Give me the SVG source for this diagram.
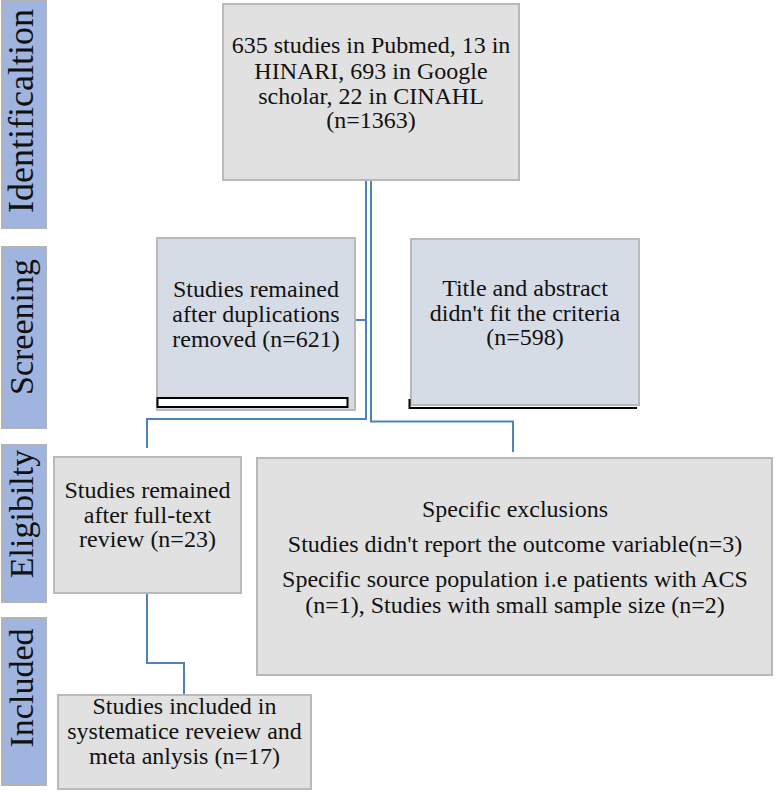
<svg xmlns="http://www.w3.org/2000/svg" width="779" height="792" viewBox="0 0 779 792">
<style>
.band{fill:#9fb5e0;stroke:#b3b3b3;stroke-width:2}
.bt{font-family:"Liberation Serif","Times New Roman",serif;font-size:34px;fill:#111;text-anchor:middle}
.box{fill:#e1e1e1;stroke:#b9b9b9;stroke-width:2}
.sbox{fill:#d6dce6;stroke:#b9b9b9;stroke-width:2}
.t{font-family:"Liberation Serif","Times New Roman",serif;font-size:24px;fill:#111;text-anchor:middle}
.c{fill:none;stroke:#4f81bd;stroke-width:2}
</style>
<rect width="779" height="792" fill="#fff"/>
<g id="band-identification"><rect class="band" x="2" y="1" width="44" height="227"/><text class="bt" style="font-size:36px" transform="translate(33,111) rotate(-90)">Identificaltion</text></g>
<g id="band-screening"><rect class="band" x="2" y="247" width="44" height="181"/><text class="bt" transform="translate(33,327) rotate(-90)">Screening</text></g>
<g id="band-eligibility"><rect class="band" x="2" y="445" width="44" height="157"/><text class="bt" transform="translate(33,514) rotate(-90)">Eligibilty</text></g>
<g id="band-included"><rect class="band" x="2" y="618" width="44" height="167"/><text class="bt" transform="translate(33,688) rotate(-90)">Included</text></g>
<g id="connectors">
<polyline class="c" points="366,180 366,419 147,419 147,448"/>
<line class="c" x1="355" y1="320" x2="366" y2="320"/>
<polyline class="c" points="371,180 371,421.5 513,421.5 513,452"/>
<polyline class="c" points="147,593 147,663 184,663 184,694"/>
</g>
<g id="n-identified"><rect class="box" x="223" y="4" width="296" height="176"/>
<text class="t" x="371" y="53">635 studies in Pubmed, 13 in</text>
<text class="t" x="371" y="79">HINARI, 693 in Google</text>
<text class="t" x="371" y="104">scholar, 22 in CINAHL</text>
<text class="t" x="371" y="128">(n=1363)</text></g>
<g id="n-remained"><rect class="sbox" x="157" y="238" width="198" height="172"/>
<rect x="157.5" y="398" width="190" height="9" fill="#fff" stroke="#000" stroke-width="2"/>
<text class="t" x="256" y="297">Studies remained</text>
<text class="t" x="256" y="322">after duplications</text>
<text class="t" x="256" y="347">removed (n=621)</text></g>
<g id="n-title"><rect class="sbox" x="411" y="239" width="228" height="166"/>
<polyline points="409.5,399 409.5,408 637,408" fill="none" stroke="#000" stroke-width="2"/>
<text class="t" x="525" y="296">Title and abstract</text>
<text class="t" x="525" y="321">didn't fit the criteria</text>
<text class="t" x="525" y="345">(n=598)</text></g>
<g id="n-fulltext"><rect class="box" x="54" y="457" width="187" height="136"/>
<text class="t" x="147.5" y="498">Studies remained</text>
<text class="t" x="147.5" y="523">after full-text</text>
<text class="t" x="147.5" y="547">review (n=23)</text></g>
<g id="n-exclusions"><rect class="box" x="257" y="458" width="515" height="217"/>
<text class="t" x="515" y="517">Specific exclusions</text>
<text class="t" x="515" y="552">Studies didn't report the outcome variable(n=3)</text>
<text class="t" x="515" y="587">Specific source population i.e patients with ACS</text>
<text class="t" x="515" y="613">(n=1), Studies with small sample size (n=2)</text></g>
<g id="n-included"><rect class="box" x="58" y="695" width="253" height="94"/>
<text class="t" x="184.5" y="714">Studies included in</text>
<text class="t" x="184.5" y="739">systematice reveiew and</text>
<text class="t" x="184.5" y="764">meta anlysis (n=17)</text></g>
</svg>
